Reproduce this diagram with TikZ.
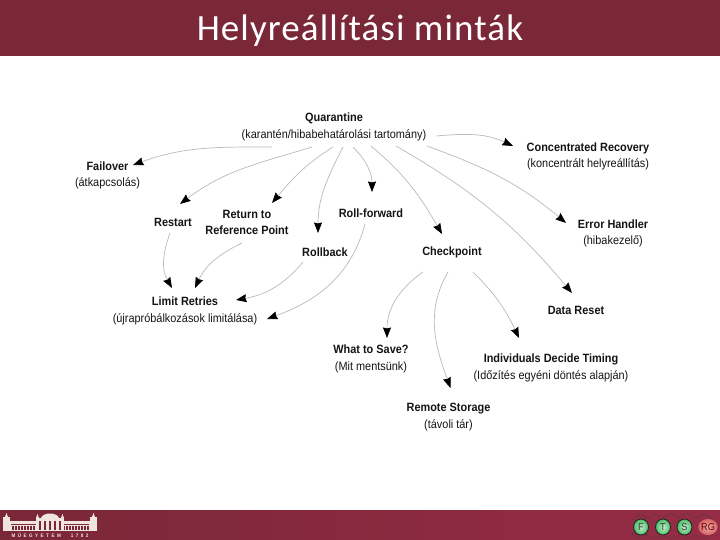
\documentclass[tikz,border=0pt]{standalone}
\usepackage{fontspec}
\usepackage{tikz}
\usetikzlibrary{arrows.meta,shapes.geometric}
\setmainfont[FakeStretch=0.91]{Liberation Sans}
\newfontfamily\titlefont[LetterSpace=3]{Carlito}
\definecolor{bmewine}{RGB}{122,39,56}
\definecolor{bmerose}{RGB}{150,44,70}
\definecolor{bmecream}{RGB}{240,228,222}
\definecolor{linkgray}{RGB}{185,185,185}
\definecolor{labelink}{RGB}{20,20,20}
\definecolor{badgegreen}{RGB}{70,190,100}
\definecolor{badgered}{RGB}{215,100,100}
\tikzset{
  pattern/.style={font=\fontsize{12}{16.5}\selectfont,text=labelink,align=center,inner sep=0pt},
  link/.style={linkgray,line width=0.7pt,-{Stealth[black,length=10.5pt,width=8pt,inset=1pt]}},
  badge/.style={ellipse,minimum width=15pt,minimum height=16pt,inner sep=0pt,draw=black!85,line width=0.9pt,inner color=white!70!badgegreen,outer color=badgegreen,text=black!80,font=\fontsize{10}{10}\selectfont},
  wiggle/.style={black!75,dash pattern=on 2pt off 2pt,line width=0.6pt}
}
\begin{document}
\begin{tikzpicture}[x=1pt,y=-1pt]
  \useasboundingbox (0,0) rectangle (720,540);
  \fill[bmewine] (0,0) rectangle (720,56);
  \shade[left color=bmewine,right color=bmerose] (0,510) rectangle (720,540);
  \node[white,anchor=base,inner sep=0pt,font=\titlefont\fontsize{37}{40}\selectfont] (title) at (360,41) {Helyreállítási minták};

  \node[pattern] (quarantine) at (334,127) {\textbf{Quarantine}\\(karantén/hibabehatárolási tartomány)};
  \node[pattern] (failover) at (107.5,175.5) {\textbf{Failover}\\(átkapcsolás)};
  \node[pattern] (restart) at (173,222) {\textbf{Restart}};
  \node[pattern] (return) at (247,222.5) {\textbf{Return to}\\\textbf{Reference Point}};
  \node[pattern] (rollback) at (325,252) {\textbf{Rollback}};
  \node[pattern] (rollforward) at (371,213) {\textbf{Roll-forward}};
  \node[pattern] (checkpoint) at (452,252.5) {\textbf{Checkpoint}};
  \node[pattern] (limit) at (185,311) {\textbf{Limit Retries}\\(újrapróbálkozások limitálása)};
  \node[pattern] (concentrated) at (588,156.5) {\textbf{Concentrated Recovery}\\(koncentrált helyreállítás)};
  \node[pattern] (handler) at (613,233.5) {\textbf{Error Handler}\\(hibakezelő)};
  \node[pattern] (reset) at (576,310) {\textbf{Data Reset}};
  \node[pattern] (save) at (371,359) {\textbf{What to Save?}\\(Mit mentsünk)};
  \node[pattern] (timing) at (551,368) {\textbf{Individuals Decide Timing}\\(Időzítés egyéni döntés alapján)};
  \node[pattern] (storage) at (448.5,417) {\textbf{Remote Storage}\\(távoli tár)};

  \draw[link] ([shift={(-62,20)}]quarantine.center) to[out=180,in=20] ([shift={(25.5,-10.5)}]failover.center);
  \draw[link] ([shift={(-22,20)}]quarantine.center) to[out=197,in=37] ([shift={(7,-18)}]restart.center);
  \draw[link] ([shift={(-1,20)}]quarantine.center) to[out=212,in=50] ([shift={(25,-19.5)}]return.center);
  \draw[link] ([shift={(9,20)}]quarantine.center) to[out=243,in=90] ([shift={(-7,-19)}]rollback.center);
  \draw[link] ([shift={(19,20)}]quarantine.center) to[out=-45,in=90] ([shift={(1,-21)}]rollforward.center);
  \draw[link] ([shift={(37,19)}]quarantine.center) to[out=-40,in=120] ([shift={(-10,-18.5)}]checkpoint.center);
  \draw[link] ([shift={(62,19)}]quarantine.center) to[out=-30,in=130] ([shift={(-4,-17)}]reset.center);
  \draw[link] ([shift={(93,19)}]quarantine.center) to[out=-20,in=140] ([shift={(-47,-10.5)}]handler.center);
  \draw[link] ([shift={(102,9)}]quarantine.center) to[out=5,in=155] ([shift={(-75,-10.5)}]concentrated.center);

  \draw[link] ([shift={(-3,11)}]restart.center) to[out=-110,in=120] ([shift={(-13,-23)}]limit.center);
  \draw[link] ([shift={(-5,20.5)}]return.center) to[out=206,in=65] ([shift={(10,-23)}]limit.center);
  \draw[link] ([shift={(-22,10)}]rollback.center) to[out=-130,in=10] ([shift={(51,-11)}]limit.center);
  \draw[link] ([shift={(-6,11)}]rollforward.center) to[out=-105,in=20] ([shift={(82,8)}]limit.center);

  \draw[link] ([shift={(-29,19.5)}]checkpoint.center) to[out=215,in=90] ([shift={(16,-21)}]save.center);
  \draw[link] ([shift={(-4,19.5)}]checkpoint.center) to[out=-120,in=110] ([shift={(2,-29)}]storage.center);
  \draw[link] ([shift={(21,19.5)}]checkpoint.center) to[out=-45,in=115] ([shift={(-32,-30)}]timing.center);

  \fill[bmecream] (10,521) rectangle (90,531);
  \fill[bmewine] (11,523.5) rectangle (89,525);
  \foreach \x in {12,15,...,87}
    \fill[bmewine] (\x,526) rectangle (\x+1.5,530);
  \fill[bmecream] (3,517) rectangle (10,531);
  \fill[bmecream] (90,517) rectangle (97,531);
  \fill[bmecream] (5,517) -- (6.5,513) -- (8,517) -- cycle;
  \fill[bmecream] (92,517) -- (93.5,513) -- (95,517) -- cycle;
  \fill[bmecream] (36,518) rectangle (64,531);
  \fill[bmecream] (41,518) .. controls (43,512) and (57,512) .. (59,518) -- cycle;
  \fill[bmecream] (36,518) -- (37.5,514) -- (39,518) -- cycle;
  \fill[bmecream] (61,518) -- (62.5,514) -- (64,518) -- cycle;
  \foreach \x in {39,44,...,59}
    \fill[bmewine] (\x,521) rectangle (\x+2,530);
  \node[bmecream,inner sep=0pt,font=\fontsize{5}{5}\selectfont\bfseries] (motto) at (50,535) {M\,\,\,Ű\,\,\,E\,\,\,G\,\,\,Y\,\,\,E\,\,\,T\,\,\,E\,\,\,M\qquad 1\,\,\,7\,\,\,8\,\,\,2};

  \draw[wiggle] (632,520) -- (640,514) -- (648,519) -- (655,514) -- (663,518) -- (671,513) -- (679,518) -- (687,513) -- (696,518) -- (703,514) -- (714,519);
  \draw[wiggle] (632,534) -- (640,539) -- (648,535) -- (655,539) -- (663,536) -- (671,539) -- (679,535) -- (687,539) -- (696,535) -- (703,539) -- (714,535);
  \node[badge] (badgeF) at (641,527) {F};
  \node[badge] (badgeT) at (663,527) {T};
  \node[badge] (badgeS) at (684.5,527) {S};
  \node[badge,inner color=white!45!badgered,outer color=badgered,draw=none,text=black!60!red] (badgeRG) at (708,527) {RG};
\end{tikzpicture}
\end{document}
